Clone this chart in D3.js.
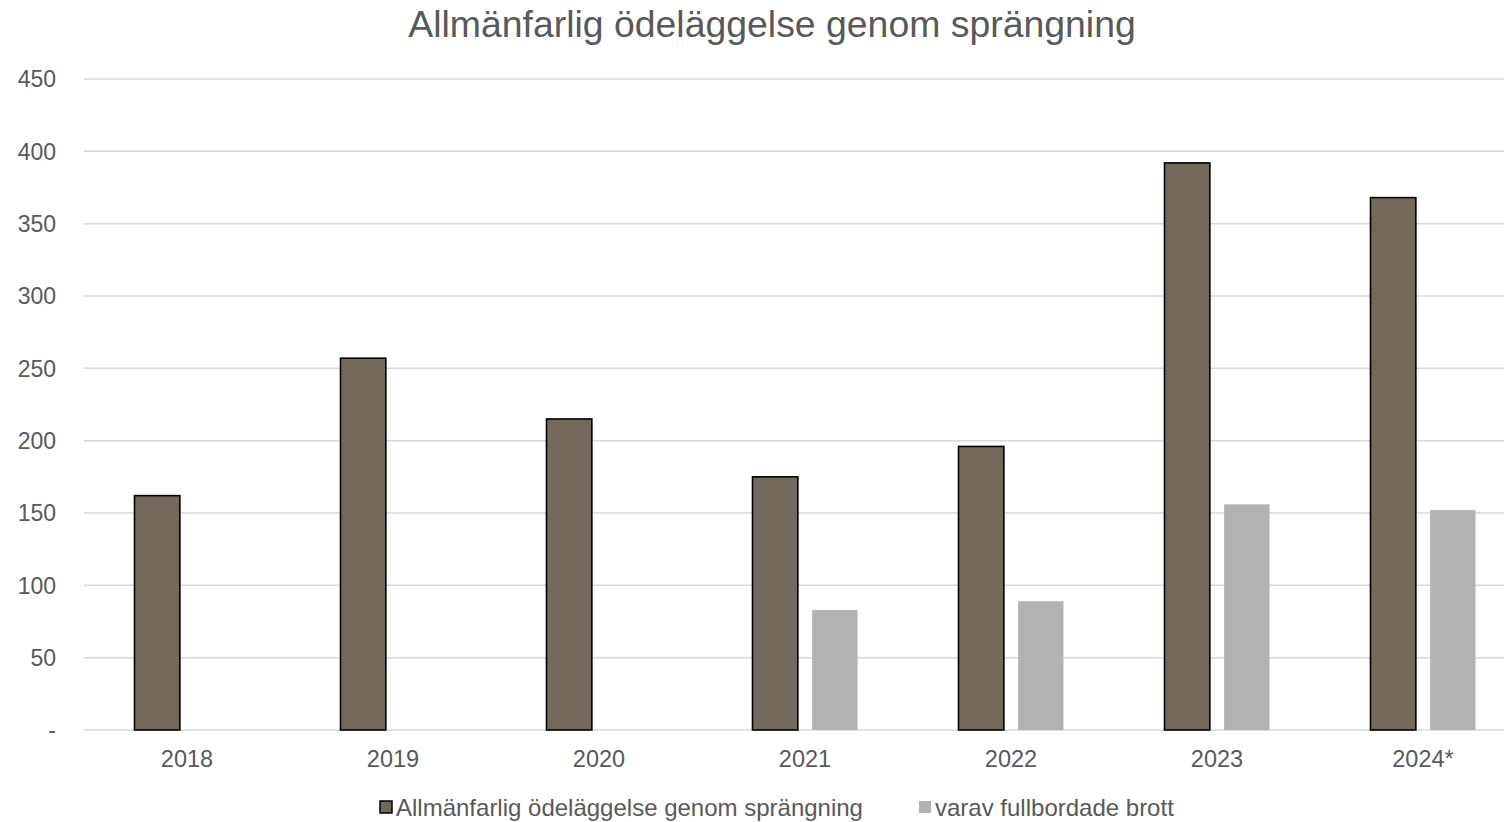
<!DOCTYPE html>
<html>
<head>
<meta charset="utf-8">
<script src="https://cdn.jsdelivr.net/npm/d3@7"></script>
<style>
  body { margin: 0; background: #fff; }
  text { font-family: "Liberation Sans", Arial, sans-serif; fill: #595959; }
</style>
</head>
<body>
<svg id="chart" width="1504" height="822"></svg>
<script>
// data
const years = ["2018", "2019", "2020", "2021", "2022", "2023", "2024*"]
const total = [162, 257, 215, 175, 196, 392, 368]
const completed = [null, null, null, 83, 89, 156, 152]
const yTicks = [0, 50, 100, 150, 200, 250, 300, 350, 400, 450]
const seriesNames = ["Allmänfarlig ödeläggelse genom sprängning", "varav fullbordade brott"]
const seriesColors = ["#72695c", "#b2b2b2"]

const W = 1504, H = 822
const plotLeft = 84, plotRight = 1526, plotTop = 79, plotBottom = 730

const svg = d3.select("#chart")

const x = d3.scaleBand().domain(years).range([plotLeft, plotRight]).padding(0)
const y = d3.scaleLinear().domain([0, 450]).range([plotBottom, plotTop])

// title
svg.append("text")
    .attr("x", 772)
    .attr("y", 37)
    .attr("text-anchor", "middle")
    .attr("font-size", 37.4)
    .text("Allmänfarlig ödeläggelse genom sprängning")

// gridlines
svg.append("g")
    .selectAll("line")
    .data(yTicks)
    .enter()
    .append("line")
    .attr("x1", plotLeft)
    .attr("x2", W)
    .attr("y1", d => y(d))
    .attr("y2", d => y(d))
    .attr("stroke", "#d9d9d9")
    .attr("stroke-width", 1.5)

// y axis labels
svg.append("g")
    .selectAll("text")
    .data(yTicks)
    .enter()
    .append("text")
    .attr("x", 56)
    .attr("y", d => y(d) + 8.3)
    .attr("text-anchor", "end")
    .attr("font-size", 23)
    .text(d => d == 0 ? "-" : d)

// x axis labels
svg.append("g")
    .selectAll("text")
    .data(years)
    .enter()
    .append("text")
    .attr("x", d => x(d) + x.bandwidth() / 2)
    .attr("y", 767)
    .attr("text-anchor", "middle")
    .attr("font-size", 23.5)
    .text(d => d)

const inner = d3.scaleBand().domain([0, 1]).range([-52.5, 52.5]).paddingInner(0.24)

const rows = years.map((yr, i) => ({ yr: yr, vals: [total[i], completed[i]] }))

svg.append("g")
    .selectAll("g")
    .data(rows)
    .enter()
    .append("g")
    .attr("transform", d => "translate(" + (x(d.yr) + x.bandwidth() / 2) + ",0)")
    .selectAll("rect")
    .data(d => d.vals.map((v, s) => ({ v: v, s: s })).filter(e => e.v != null))
    .enter()
    .append("rect")
    .attr("x", d => inner(d.s))
    .attr("width", inner.bandwidth())
    .attr("y", d => y(d.v))
    .attr("height", d => y(0) - y(d.v))
    .attr("fill", d => seriesColors[d.s])
    .attr("stroke", d => d.s == 0 ? "#000" : "none")
    .attr("stroke-width", 1.6)

// legend
const legendX = [380, 919]
const lg = svg.append("g")
seriesNames.forEach((name, s) => {
    lg.append("rect")
        .attr("x", legendX[s])
        .attr("y", 801)
        .attr("width", 12)
        .attr("height", 12)
        .attr("fill", seriesColors[s])
        .attr("stroke", s == 0 ? "#000" : "none")
        .attr("stroke-width", 1.5)
    lg.append("text")
        .attr("x", legendX[s] + 16)
        .attr("y", 816)
        .attr("font-size", 24)
        .text(name)
})
</script>
</body>
</html>
